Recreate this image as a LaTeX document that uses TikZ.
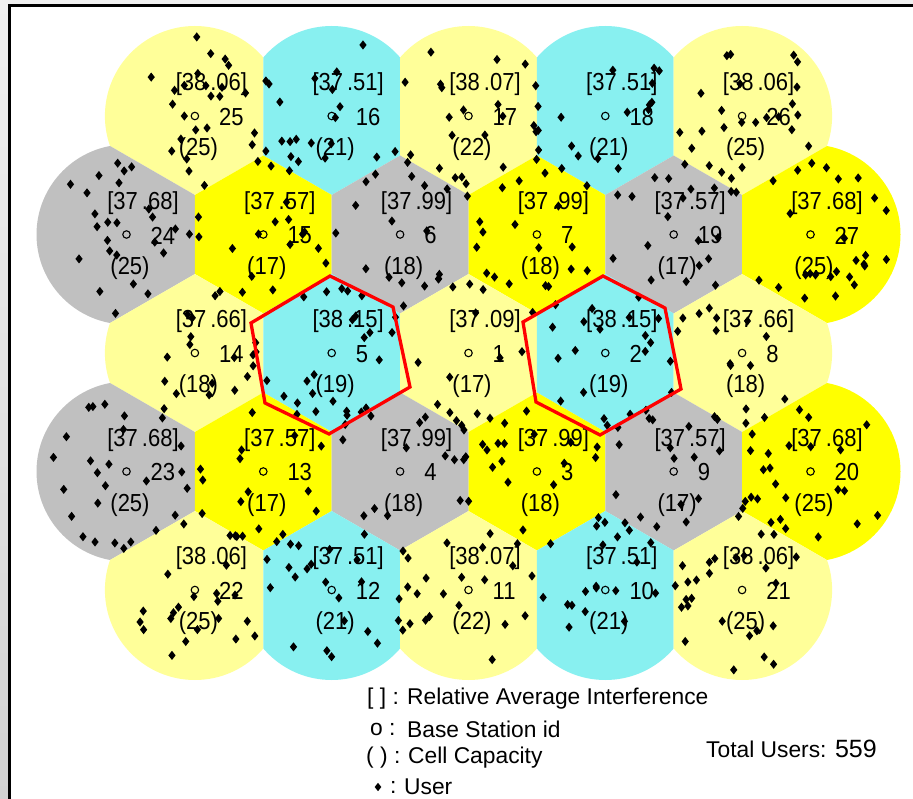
\documentclass[tikz,border=0pt]{standalone}
\usepackage{fontspec}
\setmainfont{Liberation Sans}
\usetikzlibrary{calc}
\definecolor{paleY}{HTML}{FFFF99}
\definecolor{cyanC}{HTML}{88F0F0}
\definecolor{grayC}{HTML}{C0C0C0}
\definecolor{brightY}{HTML}{FFFF00}
\definecolor{frameTop}{HTML}{F0F0F0}
\definecolor{frameBot}{HTML}{D2D2D2}
\newcommand\tallT[1]{\scalebox{1}[1.12]{#1}}
\newcommand\hpclip[2]{\clip ($(#1)+(#2:68.4)+(#2+90:300)$) -- ($(#1)+(#2:68.4)+(#2-90:300)$) -- ($(#1)+(#2:-300)+(#2-90:300)$) -- ($(#1)+(#2:-300)+(#2+90:300)$) -- cycle;}
\newcommand\cellfill[8]{%
  \begin{scope}
    \ifnum#3=1 \hpclip{c#1}{0}\fi
    \ifnum#4=1 \hpclip{c#1}{60}\fi
    \ifnum#5=1 \hpclip{c#1}{120}\fi
    \ifnum#6=1 \hpclip{c#1}{180}\fi
    \ifnum#7=1 \hpclip{c#1}{240}\fi
    \ifnum#8=1 \hpclip{c#1}{300}\fi
    \fill[#2] (c#1) circle (90);
  \end{scope}}
\tikzset{
  lbl/.style={inner sep=0pt, font=\fontsize{22}{24}\selectfont},
  legtext/.style={inner sep=0pt, anchor=west, font=\fontsize{22.8}{24}\selectfont},
  bs/.style={circle, draw=black, line width=1.1pt, minimum size=7.5pt, inner sep=0pt},
  userfill/.style={fill=black},
  redhex/.style={draw=red, line width=3.3pt, line join=miter},
}
\begin{document}
\begin{tikzpicture}[x=1pt,y=-1pt]
\useasboundingbox (0,0) rectangle (913,799);
\fill[white] (0,0) rectangle (913,799);
\shade[top color=frameTop, bottom color=frameBot] (0,0) rectangle (8,799);
\fill[frameTop] (0,0) rectangle (913,4);
\draw[line width=2.6pt] (9.3,799) -- (9.3,5.3) -- (913,5.3);
% cell centres
\foreach \id/\cx/\cy in {25/194.9/116,16/331.7/116,17/468.5/116,18/605.3/116,26/742.1/116,
  24/126.5/234.5,15/263.3/234.5,6/400.1/234.5,7/536.9/234.5,19/673.7/234.5,27/810.5/234.5,
  14/194.9/353,5/331.7/353,1/468.5/353,2/605.3/353,8/742.1/353,
  23/126.5/471.5,13/263.3/471.5,4/400.1/471.5,3/536.9/471.5,9/673.7/471.5,20/810.5/471.5,
  22/194.9/590,12/331.7/590,11/468.5/590,10/605.3/590,21/742.1/590}
  {\coordinate (c\id) at (\cx,\cy);}
% coloured coverage regions
\foreach \id/\col/\fa/\fb/\fc/\fd/\fe/\ff in {
  25/paleY/1/1/1/0/0/0, 16/cyanC/1/1/1/1/0/0, 17/paleY/1/1/1/1/0/0, 18/cyanC/1/1/1/1/0/0, 26/paleY/0/1/1/1/0/0,
  24/grayC/1/1/0/0/0/1, 15/brightY/1/1/1/1/1/1, 6/grayC/1/1/1/1/1/1, 7/brightY/1/1/1/1/1/1, 19/grayC/1/1/1/1/1/1, 27/brightY/0/0/1/1/1/0,
  14/paleY/1/1/1/0/1/1, 5/cyanC/1/1/1/1/1/1, 1/paleY/1/1/1/1/1/1, 2/cyanC/1/1/1/1/1/1, 8/paleY/0/1/1/1/1/1,
  23/grayC/1/1/0/0/0/1, 13/brightY/1/1/1/1/1/1, 4/grayC/1/1/1/1/1/1, 3/brightY/1/1/1/1/1/1, 9/grayC/1/1/1/1/1/1, 20/brightY/0/0/1/1/1/0,
  22/paleY/1/0/0/0/1/1, 12/cyanC/1/0/0/1/1/1, 11/paleY/1/0/0/1/1/1, 10/cyanC/1/0/0/1/1/1, 21/paleY/0/0/0/1/1/1}
  {\cellfill{\id}{\col}{\fa}{\fb}{\fc}{\fd}{\fe}{\ff}}
% labels
\foreach \id/\bi/\fr/\cp in {
  25/38/06/25, 16/37/51/21, 17/38/07/22, 18/37/51/21, 26/38/06/25,
  24/37/68/25, 15/37/57/17, 6/37/99/18, 7/37/99/18, 19/37/57/17, 27/37/68/25,
  14/37/66/18, 5/38/15/19, 1/37/09/17, 2/38/15/19, 8/37/66/18,
  23/37/68/25, 13/37/57/17, 4/37/99/18, 3/37/99/18, 9/37/57/17, 20/37/68/25,
  22/38/06/25, 12/37/51/21, 11/38/07/22, 10/37/51/21, 21/38/06/25}
{
  \node[bs] (o\id) at (c\id) {};
  \node[lbl, anchor=west] (n\id) at ($(c\id)+(24,1)$) {\tallT{\id}};
  \node[lbl] (b\id) at ($(c\id)+(16.5,-31.5)$) {\tallT{[\bi\kern4pt.\fr]}};
  \node[lbl] (p\id) at ($(c\id)+(3.5,33.5)$) {\tallT{(\cp)}};
}
% users (one per unit of capacity, 559 in all)
\pgfmathsetseed{2718}
\foreach \id/\cp in {25/25,16/21,17/22,18/21,26/25,24/25,15/17,6/18,7/18,19/17,27/25,
  14/18,5/19,1/17,2/19,8/18,23/25,13/17,4/18,3/18,9/17,20/25,22/25,12/21,11/22,10/21,21/25}
{
  \foreach \k in {1,...,\cp}{
    \pgfmathsetmacro\ua{360*rnd}
    \pgfmathsetmacro\ur{82*sqrt(rnd)}
    \fill[userfill] ($(c\id)+(\ua:\ur)$) ++(0,-4.6) -- ++(3.6,4.6) -- ++(-3.6,4.6) -- ++(-3.6,-4.6) -- cycle;
  }
}
% highlighted cells
\draw[redhex] (251,323) -- (330,276) -- (393,307) -- (410,387) -- (329,434) -- (265,403) -- cycle;
\draw[redhex] (523,322) -- (603,276) -- (665,308) -- (681,389) -- (600,435) -- (536,402) -- cycle;
% legend
\node[legtext] (lg1s) at (367,699) {[ ] :};
\node[legtext] (lg1) at (407,699) {Relative Average Interference};
\node[legtext] (lg2s) at (370,729) {o :};
\node[legtext] (lg2) at (407,729) {Base Station id};
\node[legtext] (lg3s) at (366,758) {( ) :};
\node[legtext] (lg3) at (408,758) {Cell Capacity};
\coordinate (lg4d) at (378,787);
\fill[userfill] (lg4d) ++(0,-4.2) -- ++(3.3,4.2) -- ++(-3.3,4.2) -- ++(-3.3,-4.2) -- cycle;
\node[legtext] (lg4s) at (390,787) {:};
\node[legtext] (lg4) at (404,787) {User};
\node[legtext] (tot) at (706,749) {Total Users: \fontsize{25}{26}\selectfont 559};
\end{tikzpicture}
\end{document}
